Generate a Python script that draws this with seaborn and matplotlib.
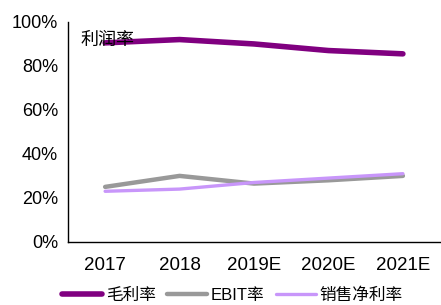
import matplotlib
matplotlib.use("Agg")
import matplotlib.pyplot as plt
import pandas as pd
import seaborn as sns
from matplotlib.ticker import PercentFormatter

# dados
anos = ["2017", "2018", "2019E", "2020E", "2021E"]
margem_bruta = [90.5, 92.0, 90.0, 87.0, 85.5]
margem_ebit = [25.0, 30.0, 26.5, 28.0, 30.0]
margem_liquida = [23.0, 24.0, 27.0, 29.0, 31.0]
series = ["毛利率", "EBIT率", "销售净利率"]
cores = ["#800080", "#999999", "#C896FA"]
larguras = [4.0, 3.2, 2.4]

sns.set_theme(style="white")
plt.rcParams['font.family'] = ['Liberation Sans', 'Noto Sans CJK SC', 'DejaVu Sans']
plt.rcParams['text.color'] = 'black'
plt.rcParams['xtick.labelcolor'] = 'black'
plt.rcParams['ytick.labelcolor'] = 'black'

df = pd.DataFrame({"ano": anos * 3,
                   "valor": margem_bruta + margem_ebit + margem_liquida,
                   "serie": [s for s in series for _ in anos]})

fig = plt.figure(figsize=(4.41, 3.05), dpi=100)
ax = fig.add_axes([0.154, 0.207, 0.844, 0.721])

ax = sns.lineplot(data=df, x="ano", y="valor", hue="serie", hue_order=series,
                  palette=cores, ax=ax, legend=False, sort=False)
for linha, lw in zip(ax.get_lines(), larguras):
    linha.set_linewidth(lw)
    linha.set_solid_capstyle("round")

ax.set_xlim(-0.5, len(anos) - 0.5)
ax.set_ylim(0, 100)
ax.set_yticks([0, 20, 40, 60, 80, 100])
ax.yaxis.set_major_formatter(PercentFormatter(decimals=0))
ax.set_xticks(range(len(anos)))
ax.set_xticklabels(anos)
ax.set_xticks([i + 0.5 for i in range(len(anos))], minor=True)
ax.tick_params(axis="x", which="major", length=0, labelsize=13.5, pad=11)
ax.tick_params(axis="x", which="minor", direction="in", length=5, width=1, color="black")
ax.tick_params(axis="y", direction="in", length=5, width=1, color="black", labelsize=13, pad=7)
ax.set_xlabel("")
ax.set_ylabel("")

for lado in ["top", "right"]:
    ax.spines[lado].set_visible(False)
for lado in ["left", "bottom"]:
    ax.spines[lado].set_color("black")
    ax.spines[lado].set_linewidth(1)

ax.text(0.035, 0.955, "利润率", transform=ax.transAxes, fontsize=13, va="top", ha="left")

handles = [plt.Line2D([], [], color=c, lw=lw, solid_capstyle="round") for c, lw in zip(cores, larguras)]
fig.legend(handles, series, loc="center", bbox_to_anchor=(0.527, 0.033), ncol=3, frameon=False,
           fontsize=12, handlelength=2.4, handletextpad=0.2, columnspacing=0.7, borderaxespad=0)

fig.savefig("out.png", dpi=100)
